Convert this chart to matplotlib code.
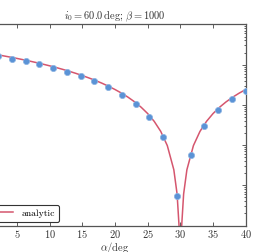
import numpy as np
import matplotlib
matplotlib.use('Agg')
import matplotlib.pyplot as plt

plt.rcParams['font.family'] = 'serif'
plt.rcParams['font.serif'] = ['cmr10', 'DejaVu Serif']
plt.rcParams['mathtext.fontset'] = 'cm'
plt.rcParams['axes.formatter.use_mathtext'] = True

# analytic curve
alpha_line = [0, 1, 2, 3, 4, 5, 6, 7, 8, 9, 10, 11, 12, 13, 14, 15, 16, 17, 18, 19,
              20, 21, 22, 23, 24, 25, 26, 27, 28, 29, 29.5, 29.8, 29.9, 29.97, 30.0,
              30.03, 30.1, 30.2, 30.5, 31, 32, 33, 34, 35, 36, 37, 38, 39, 40]
refl_line = [0.200, 0.188, 0.1763, 0.1649, 0.1537, 0.1429, 0.1323, 0.1221, 0.1123, 0.1027,
             0.0936, 0.0848, 0.0764, 0.0684, 0.0608, 0.0536, 0.0468, 0.0405, 0.0346, 0.0291,
             0.0241, 0.0196, 0.0155, 0.0119, 0.00874, 0.00608, 0.00389, 0.00219, 0.000974,
             0.000244, 6.09e-5, 9.75e-6, 2.44e-6, 2.19e-7, 1e-12,
             2.19e-7, 2.44e-6, 9.75e-6, 6.09e-5, 0.000244, 0.000974, 0.00219, 0.00389,
             0.00608, 0.00874, 0.0119, 0.0155, 0.0196, 0.0241]

# sampled points
alpha_pts = [0, 2.105, 4.211, 6.316, 8.421, 10.526, 12.632, 14.737, 16.842, 18.947,
             21.053, 23.158, 25.263, 27.368, 29.474, 31.579, 33.684, 35.789, 37.895, 40]
refl_pts = [0.185, 0.162, 0.140, 0.120, 0.101, 0.0830, 0.0665, 0.0515, 0.0385, 0.0272,
            0.0178, 0.0104, 0.00500, 0.00155, 5.3e-5, 5.6e-4, 0.00305, 0.00755, 0.0140, 0.0224]

fig = plt.figure(figsize=(2.79, 2.52), dpi=100)
ax = fig.add_axes([-0.0563, 0.105, 0.937, 0.798])

ax.plot(alpha_line, refl_line, color='#d5566e', lw=1.1, label='analytic', zorder=2)
ax.plot(alpha_pts, refl_pts, 'o', color='#5b93d6', ms=4.5, mec='#8db4e3', mew=0.5, zorder=3)

ax.set_yscale('log')
ax.set_xlim(0, 40)
ax.set_ylim(1e-5, 1e0)
ax.set_xticks([0, 5, 10, 15, 20, 25, 30, 35, 40])
ax.tick_params(which='both', direction='in', top=True, right=True, labelsize=7.5,
               colors='#444444', labelcolor='#333333', width=0.6, pad=1.5)
ax.tick_params(which='major', length=3)
ax.tick_params(which='minor', length=1.5)
ax.tick_params(axis='x', which='minor', top=False, bottom=False)
for s in ax.spines.values():
    s.set_color('#555555')
    s.set_linewidth(0.9)

ax.set_title(r'$i_0 = 60.0\,\mathrm{deg};\,\beta = 1000$', fontsize=7.5, pad=4, color='#333333')
ax.set_xlabel(r'$\alpha/\mathrm{deg}$', fontsize=7.5, labelpad=0, color='#333333')

leg = ax.legend(loc='lower left', fontsize=7, fancybox=True, framealpha=1,
                borderaxespad=0.4, handlelength=2.2)
leg.get_frame().set_edgecolor('#333333')
leg.get_frame().set_linewidth(0.8)

fig.savefig('out.png', dpi=100)
